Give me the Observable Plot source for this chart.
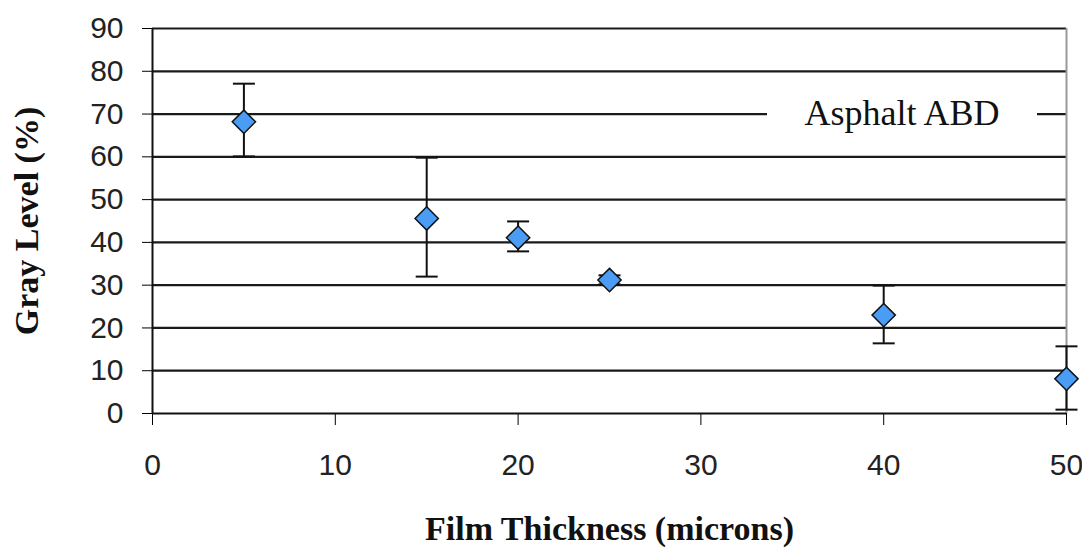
<!DOCTYPE html>
<html><head><meta charset="utf-8">
<script src="https://cdn.jsdelivr.net/npm/d3@7"></script>
<script src="https://cdn.jsdelivr.net/npm/@observablehq/plot@0.6"></script>
<style>
body{margin:0;background:#fff;}
#wrap{position:relative;width:1082px;height:550px;}
#legend{position:absolute;left:767px;top:92px;width:270px;height:42px;background:#fff;font:36px "Liberation Serif","Times New Roman",serif;color:#111;display:flex;align-items:center;justify-content:center;z-index:2;}
svg text{fill:#222;}
[aria-label="x-axis label"] text,[aria-label="y-axis label"] text{font:bold 34px "Liberation Serif","Times New Roman",serif;fill:#111;}
</style></head><body>
<div id="wrap"></div>
<script>
const seriesName = "Asphalt ABD";
const thickness = [5, 15, 20, 25, 40, 50];
const grayLevel = [68.2, 45.6, 41.1, 31.2, 23.0, 8.1];
const errLow = [60.1, 32.0, 37.9, 30.2, 16.4, 0.9];
const errHigh = [77.1, 59.8, 44.9, 32.3, 29.9, 15.7];
const xDomain = [0, 50];
const yDomain = [0, 90];
const xTicks = [0, 10, 20, 30, 40, 50];
const yTicks = [0, 10, 20, 30, 40, 50, 60, 70, 80, 90];

const data = thickness.map((t, i) => ({x: t, y: grayLevel[i], lo: errLow[i], hi: errHigh[i]}));

const capSymbol = {
  draw(context, size) {
    const h = Math.sqrt(size / Math.PI);
    context.moveTo(-h, 0);
    context.lineTo(h, 0);
  }
};

const chart = Plot.plot({
  width: 1082,
  height: 550,
  marginLeft: 152,
  marginRight: 16,
  marginTop: 28,
  marginBottom: 137,
  style: {fontFamily: '"Liberation Sans",Arial,sans-serif', fontSize: "30px", background: "#fff"},
  x: {domain: xDomain, ticks: xTicks, tickSize: 12, tickPadding: 28, label: "Film Thickness (microns)", labelArrow: "none", labelAnchor: "center", labelOffset: 126},
  y: {domain: yDomain, ticks: yTicks, tickSize: 10, tickPadding: 19, label: "Gray Level (%)", labelArrow: "none", labelAnchor: "center", labelOffset: 139},
  marks: [
    Plot.ruleY(yTicks.slice(1), {stroke: "#1a1a1a", strokeWidth: 2.2}),
    Plot.ruleX(xDomain.slice(-1), {stroke: "#999", strokeWidth: 2}),
    Plot.ruleY(yDomain.slice(0, 1), {stroke: "#111", strokeWidth: 2.2}),
    Plot.ruleX(xDomain.slice(0, 1), {stroke: "#111", strokeWidth: 2}),
    Plot.ruleX(data, {x: "x", y1: "lo", y2: "hi", stroke: "#111", strokeWidth: 2}),
    Plot.dot(data, {x: "x", y: "lo", symbol: capSymbol, r: 11, stroke: "#111", strokeWidth: 2, fill: "none"}),
    Plot.dot(data, {x: "x", y: "hi", symbol: capSymbol, r: 11, stroke: "#111", strokeWidth: 2, fill: "none"}),
    Plot.dot(data, {x: "x", y: "y", symbol: "diamond2", r: 10.5, fill: "#4a9cf5", stroke: "#111", strokeWidth: 1.5})
  ]
});
const wrap = document.getElementById("wrap");
wrap.appendChild(chart);
const lg = document.createElement("div");
lg.id = "legend";
lg.textContent = seriesName;
wrap.appendChild(lg);
</script>
</body></html>
